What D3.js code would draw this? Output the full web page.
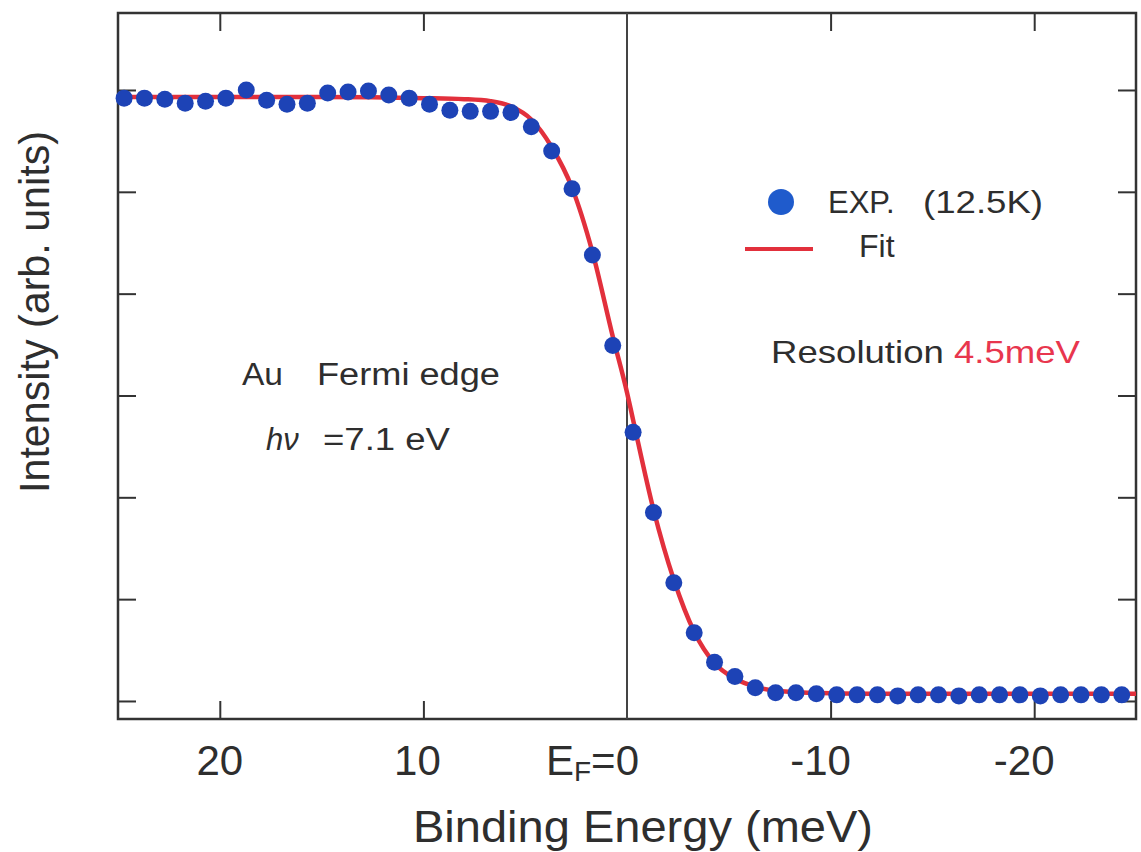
<!DOCTYPE html>
<html>
<head>
<meta charset="utf-8">
<script src="https://cdn.jsdelivr.net/npm/d3@7"></script>
<style>
  html, body { margin: 0; padding: 0; background: #fff; }
  svg { display: block; font-family: 'Liberation Sans', Arial, sans-serif; }
</style>
</head>
<body>
<svg id="chart" width="1141" height="852"></svg>
<script>
// measured points, binding energy in meV (1 meV steps)
const energies = [
  24.7, 23.7, 22.7, 21.7, 20.7, 19.7, 18.7, 17.7, 16.7, 15.7,
  14.7, 13.7, 12.7, 11.7, 10.7, 9.7, 8.7, 7.7, 6.7, 5.7,
  4.7, 3.7, 2.7, 1.7, 0.7, -0.3, -1.3, -2.3, -3.3, -4.3,
  -5.3, -6.3, -7.3, -8.3, -9.3, -10.3, -11.3, -12.3, -13.3, -14.3,
  -15.3, -16.3, -17.3, -18.3, -19.3, -20.3, -21.3, -22.3, -23.3, -24.3
];
const intensities = [
  5.92, 5.92, 5.91, 5.87, 5.89, 5.92, 6.00, 5.90, 5.86, 5.87,
  5.97, 5.98, 5.99, 5.95, 5.92, 5.86, 5.80, 5.79, 5.79, 5.78,
  5.64, 5.40, 5.03, 4.38, 3.49, 2.64, 1.85, 1.16, 0.67, 0.38,
  0.24, 0.13, 0.08, 0.08, 0.07, 0.06, 0.06, 0.06, 0.05, 0.06,
  0.06, 0.05, 0.06, 0.06, 0.06, 0.05, 0.06, 0.06, 0.06, 0.06
];

// fit curve
const fitEnergies = [25, 20, 15, 10, 8, 6.7, 5.7, 4.7, 3.7, 2.7, 1.7, 0.7, 0, -0.3, -1.3, -2.3, -3.3, -4.3, -5.3, -6.3, -7.3, -9, -12, -25];
const fitValues = [5.93, 5.93, 5.93, 5.92, 5.91, 5.89, 5.84, 5.71, 5.44, 5.04, 4.41, 3.58, 3.03, 2.76, 1.88, 1.19, 0.68, 0.37, 0.22, 0.14, 0.10, 0.08, 0.07, 0.07];

const xTicks = [20, 10, 0, -10, -20];
const xTickLabels = ['20', '10', 'E_F=0', '-10', '-20'];
const yTicks = [0, 1, 2, 3, 4, 5, 6];

const colors = {
  dots: '#1d43b6',
  legendDot: '#1f5bcc',
  fit: '#e2303c',
  frame: '#333',
  text: '#2e2e2e',
  accent: '#e8364e'
};

const svg = d3.select('#chart');
const plot = { left: 118, right: 1136, top: 13, bottom: 719 };

const x = d3.scaleLinear().domain([25, -25]).range([plot.left, plot.right]);
const y = d3.scaleLinear().domain([-0.177, 6.756]).range([plot.bottom, plot.top]);

const tickLen = 18;

// inward ticks on all four sides
svg.append('g')
  .attr('transform', `translate(0,${plot.bottom})`)
  .call(d3.axisTop(x).tickValues(xTicks.filter((d) => d !== 0)).tickSize(tickLen).tickFormat(''))
  .call((g) => g.select('.domain').remove());
svg.append('g')
  .attr('transform', `translate(0,${plot.top})`)
  .call(d3.axisBottom(x).tickValues(xTicks.filter((d) => d !== 0)).tickSize(tickLen).tickFormat(''))
  .call((g) => g.select('.domain').remove());
svg.append('g')
  .attr('transform', `translate(${plot.left},0)`)
  .call(d3.axisRight(y).tickValues(yTicks).tickSize(tickLen).tickFormat(''))
  .call((g) => g.select('.domain').remove());
svg.append('g')
  .attr('transform', `translate(${plot.right},0)`)
  .call(d3.axisLeft(y).tickValues(yTicks).tickSize(tickLen).tickFormat(''))
  .call((g) => g.select('.domain').remove());
svg.selectAll('.tick line').attr('stroke', colors.frame).attr('stroke-width', 2);

// frame
svg.append('rect')
  .attr('x', plot.left)
  .attr('y', plot.top)
  .attr('width', plot.right - plot.left)
  .attr('height', plot.bottom - plot.top)
  .attr('fill', 'none')
  .attr('stroke', colors.frame)
  .attr('stroke-width', 2.5);

// Fermi level
svg.append('line')
  .attr('x1', x(0)).attr('x2', x(0))
  .attr('y1', plot.top).attr('y2', plot.bottom)
  .attr('stroke', '#444')
  .attr('stroke-width', 2);

// fit
const fitData = fitEnergies.map((e, i) => ({ e, v: fitValues[i] }));
svg.append('path')
  .datum(fitData)
  .attr('d', d3.line().x((d) => x(d.e)).y((d) => y(d.v)).curve(d3.curveMonotoneX))
  .attr('fill', 'none')
  .attr('stroke', colors.fit)
  .attr('stroke-width', 4.5);

// data points
const points = energies.map((e, i) => ({ e, v: intensities[i] }));
svg.append('g')
  .selectAll('circle')
  .data(points)
  .enter()
  .append('circle')
  .attr('cx', (d) => x(d.e))
  .attr('cy', (d) => y(d.v))
  .attr('r', 8.5)
  .attr('fill', colors.dots);

// x tick labels
xTicks.forEach((t, i) => {
  const label = xTickLabels[i];
  if (label.startsWith('E_F')) {
    const txt = svg.append('text')
      .attr('x', x(t) + 12)
      .attr('y', 775)
      .attr('text-anchor', 'end')
      .attr('font-size', 42)
      .attr('fill', colors.text);
    txt.append('tspan').text('E');
    txt.append('tspan').attr('font-size', 28).attr('dy', 6).text('F');
    txt.append('tspan').attr('dy', -6).text('=0');
    return;
  }
  svg.append('text')
    .attr('x', x(t) + (t < 0 ? -10 : t === 10 ? -6 : 0))
    .attr('y', 775)
    .attr('text-anchor', 'middle')
    .attr('font-size', 42)
    .attr('fill', colors.text)
    .text(label);
});

// axis titles
svg.append('text')
  .attr('x', 413)
  .attr('y', 842)
  .attr('font-size', 45)
  .attr('textLength', 460)
  .attr('lengthAdjust', 'spacingAndGlyphs')
  .attr('fill', colors.text)
  .text('Binding Energy (meV)');

svg.append('text')
  .attr('transform', 'translate(49,312) rotate(-90)')
  .attr('text-anchor', 'middle')
  .attr('font-size', 42)
  .attr('textLength', 362)
  .attr('lengthAdjust', 'spacingAndGlyphs')
  .attr('fill', colors.text)
  .text('Intensity (arb. units)');

// legend
svg.append('circle')
  .attr('cx', 781)
  .attr('cy', 202)
  .attr('r', 13)
  .attr('fill', colors.legendDot);
svg.append('text')
  .attr('x', 828).attr('y', 213)
  .attr('font-size', 31)
  .attr('fill', colors.text)
  .text('EXP.');
svg.append('text')
  .attr('x', 923).attr('y', 213)
  .attr('font-size', 31)
  .attr('textLength', 120)
  .attr('lengthAdjust', 'spacingAndGlyphs')
  .attr('fill', colors.text)
  .text('(12.5K)');
svg.append('line')
  .attr('x1', 745).attr('x2', 813)
  .attr('y1', 249).attr('y2', 249)
  .attr('stroke', colors.fit)
  .attr('stroke-width', 4);
svg.append('text')
  .attr('x', 859).attr('y', 257)
  .attr('font-size', 32)
  .attr('fill', colors.text)
  .text('Fit');

// annotations
const res = svg.append('text')
  .attr('x', 771).attr('y', 363)
  .attr('font-size', 32)
  .attr('textLength', 309)
  .attr('lengthAdjust', 'spacingAndGlyphs')
  .attr('fill', colors.text);
res.append('tspan').text('Resolution ');
res.append('tspan').attr('fill', colors.accent).text('4.5meV');

svg.append('text')
  .attr('x', 242).attr('y', 385)
  .attr('font-size', 32)
  .attr('textLength', 41)
  .attr('lengthAdjust', 'spacingAndGlyphs')
  .attr('fill', colors.text)
  .text('Au');
svg.append('text')
  .attr('x', 317).attr('y', 385)
  .attr('font-size', 31)
  .attr('textLength', 183)
  .attr('lengthAdjust', 'spacingAndGlyphs')
  .attr('fill', colors.text)
  .text('Fermi edge');

svg.append('text')
  .attr('x', 266).attr('y', 450)
  .attr('font-size', 31)
  .attr('font-style', 'italic')
  .attr('fill', colors.text)
  .text('hν');
svg.append('text')
  .attr('x', 323).attr('y', 450)
  .attr('font-size', 31)
  .attr('textLength', 127)
  .attr('lengthAdjust', 'spacingAndGlyphs')
  .attr('fill', colors.text)
  .text('=7.1 eV');
</script>
</body>
</html>
